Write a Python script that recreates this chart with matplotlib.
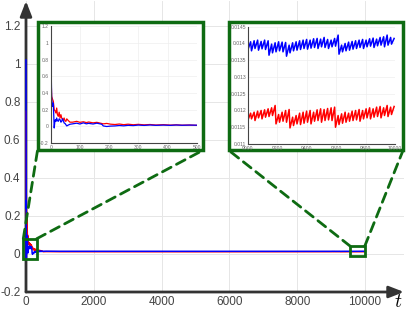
import numpy as np
import matplotlib
matplotlib.use("Agg")
import matplotlib.pyplot as plt
from matplotlib.patches import Rectangle, ConnectionPatch

plt.rcParams['font.family'] = ['Liberation Sans', 'DejaVu Sans']
plt.rcParams['mathtext.fontset'] = 'cm'

# early transient, t in [0, 500]
t_early = [0, 1, 2, 3.4, 5, 6.8, 9, 12, 14, 16, 18, 20.5, 23, 26, 29, 32, 35, 37.7, 40, 43,
           46, 49, 52, 55, 60, 66, 75, 89, 100, 112, 122, 130, 145, 158, 175, 180, 192,
           205, 220, 235, 250, 265, 283, 300, 320, 340, 360, 386, 410, 430, 450, 475, 500]
blue_early = [1.02, 0.9, 0.6, 0.32, 0.28, 0.24, 0.28, -0.02, 0.05, 0.08, 0.06, 0.10, 0.07,
              0.06, 0.09, 0.08, 0.05, 0.06, 0.09, 0.07, 0.04, 0.035, 0.02, 0.005, 0.015,
              0.025, 0.03, 0.038, 0.028, 0.042, 0.03, 0.036, 0.028, 0.038, 0.025, 0.005,
              -0.002, 0.003, 0.005, 0.01, 0.006, 0.012, 0.009, 0.015, 0.011, 0.016, 0.012,
              0.015, 0.012, 0.016, 0.013, 0.015, 0.014]
red_early = [0.75, 0.72, 0.5, 0.36, 0.34, 0.32, 0.3, 0.2, 0.19, 0.18, 0.16, 0.22, 0.14,
             0.12, 0.17, 0.10, 0.14, 0.10, 0.09, 0.08, 0.10, 0.065, 0.06, 0.09, 0.07, 0.05,
             0.05, 0.06, 0.048, 0.055, 0.045, 0.052, 0.042, 0.048, 0.035, 0.03, 0.035,
             0.026, 0.022, 0.028, 0.02, 0.026, 0.019, 0.024, 0.018, 0.022, 0.016, 0.02,
             0.015, 0.018, 0.014, 0.016, 0.012]

# middle stretch (flat)
t_mid = [600, 800, 1000, 1500, 2000, 3000, 4000, 5000, 6000, 7000, 8000, 8500]
blue_mid = [0.0145, 0.0142, 0.014, 0.0141, 0.0139, 0.014, 0.0139, 0.014, 0.0139, 0.014,
            0.0139, 0.0139]
red_mid = [0.0125, 0.0122, 0.012, 0.0119, 0.0119, 0.0118, 0.0118, 0.0117, 0.0118, 0.0117,
           0.0118, 0.0118]

# late sawtooth, t in [9000, 10000]: trough / peak of each tooth
blue_trough = [0.01382, 0.01378, 0.01385, 0.0138, 0.01384, 0.01382, 0.01365, 0.01372,
               0.01375, 0.01378, 0.01375, 0.01362, 0.01372, 0.01378, 0.0138, 0.01382,
               0.01385, 0.01383, 0.01386, 0.01388, 0.01385, 0.0139, 0.01388, 0.01385,
               0.0139, 0.01392, 0.01368, 0.01375, 0.01378, 0.0138, 0.01383, 0.01385,
               0.01388, 0.01385, 0.0139, 0.01392, 0.01388, 0.01393, 0.01395, 0.0139,
               0.01395, 0.01398]
blue_peak = [0.01405, 0.01408, 0.0141, 0.01406, 0.0141, 0.01408, 0.01398, 0.01402, 0.01405,
             0.01404, 0.01403, 0.01395, 0.01402, 0.01405, 0.01408, 0.0141, 0.01412, 0.0141,
             0.01414, 0.01415, 0.01413, 0.01418, 0.01412, 0.0141, 0.01415, 0.01425,
             0.01395, 0.014, 0.01404, 0.01406, 0.01408, 0.0141, 0.01412, 0.0141, 0.01414,
             0.01416, 0.01413, 0.01418, 0.0142, 0.01425, 0.01418, 0.01415]
red_trough = [0.01172, 0.01175, 0.0117, 0.01178, 0.01175, 0.0118, 0.01182, 0.01185, 0.0116,
              0.01165, 0.01168, 0.01165, 0.01148, 0.01155, 0.0116, 0.01158, 0.01162,
              0.01165, 0.0116, 0.01168, 0.0117, 0.01165, 0.0117, 0.01172, 0.0117, 0.0115,
              0.01158, 0.01162, 0.01165, 0.01168, 0.0117, 0.01172, 0.01168, 0.01175,
              0.01178, 0.01175, 0.0118, 0.01182, 0.01178, 0.01185, 0.01182, 0.01188]
red_peak = [0.01192, 0.01195, 0.01198, 0.012, 0.01202, 0.01205, 0.01208, 0.01215, 0.01188,
            0.01195, 0.012, 0.01203, 0.0118, 0.01185, 0.01192, 0.01195, 0.01198, 0.012,
            0.01195, 0.01202, 0.01205, 0.01203, 0.01206, 0.01208, 0.0121, 0.01185, 0.0119,
            0.01195, 0.01192, 0.01198, 0.012, 0.01203, 0.012, 0.01205, 0.01208, 0.01205,
            0.0121, 0.01212, 0.01208, 0.01215, 0.0121, 0.01212]

green = '#0e6b12'
W, H = 407, 311


def fbox(x0, y0, x1, y1):
    # pixel box (from top-left) -> figure fraction rect
    return [x0 / W, 1 - y1 / H, (x1 - x0) / W, (y1 - y0) / H]


# build full series from the pieces
n = len(blue_peak)
t_start = np.linspace(9000, 10000, n + 1)[:-1]
step = t_start[1] - t_start[0]
t_late = np.ravel(np.column_stack([t_start, t_start + 0.75 * step]))
blue_late = np.ravel(np.column_stack([blue_trough, blue_peak]))
red_late = np.ravel(np.column_stack([red_trough, red_peak]))

t_all = np.concatenate([t_early, t_mid, t_late])
blue_all = np.concatenate([blue_early, blue_mid, blue_late])
red_all = np.concatenate([red_early, red_mid, red_late])

fig = plt.figure(figsize=(4.07, 3.11), dpi=100)

# main axes
ax = fig.add_axes(fbox(26, 1, 404, 292), zorder=1)
ax.set_xlim(0, 11150)
ax.set_ylim(-0.2, 1.33)
ax.set_xticks([0, 2000, 4000, 6000, 8000, 10000])
ax.set_yticks([-0.2, 0, 0.2, 0.4, 0.6, 0.8, 1.0, 1.2])
ax.set_yticklabels(['-0.2', '0', '0.2', '0.4', '0.6', '0.8', '1', '1.2'])
ax.grid(color='#e6e6e6', lw=0.7)
ax.tick_params(length=0, labelsize=8.5, labelcolor='#444444')
ax.tick_params(axis='x', pad=3)
ax.tick_params(axis='y', pad=4)
for s in ax.spines.values():
    s.set_visible(False)
ax.annotate('', xy=(1, 0), xycoords='axes fraction', xytext=(0, 0),
            arrowprops=dict(arrowstyle='-|>,head_length=0.9,head_width=0.35', lw=2,
                            color='#333333', shrinkA=0, shrinkB=0))
ax.annotate('', xy=(0, 1), xycoords='axes fraction', xytext=(0, 0),
            arrowprops=dict(arrowstyle='-|>,head_length=0.9,head_width=0.35', lw=2,
                            color='#333333', shrinkA=0, shrinkB=0))
ax.text(0.995, -0.008, '$t$', transform=ax.transAxes, fontsize=14, ha='right', va='top')

ax.plot(t_all, red_all, color='red', lw=1.1, clip_on=False, zorder=3)
ax.plot(t_all, blue_all, color='blue', lw=1.1, clip_on=False, zorder=3)

# zoom boxes
ax.add_patch(Rectangle((-80, -0.027), 395, 0.107, fill=False, ec=green, lw=2,
                       clip_on=False, zorder=4))
ax.add_patch(Rectangle((9570, -0.01), 420, 0.05, fill=False, ec=green, lw=2,
                       clip_on=False, zorder=4))

# frames around insets
f1 = (37.5, 22.5, 202.5, 150.5)
f2 = (229, 22.5, 403, 150.5)
for f in (f1, f2):
    b = fbox(*f)
    fig.add_artist(Rectangle((b[0], b[1]), b[2], b[3], transform=fig.transFigure,
                             fc='white', ec=green, lw=2.5, zorder=5))

links = [((-80, 0.08), (f1[0], f1[3])), ((315, 0.08), (f1[2], f1[3])),
         ((9570, 0.04), (f2[0], f2[3])), ((9990, 0.04), (f2[2], f2[3]))]
for (dx, dy), (px, py) in links:
    fig.add_artist(ConnectionPatch(xyA=(dx, dy), coordsA=ax.transData,
                                   xyB=(px / W, 1 - py / H), coordsB=fig.transFigure,
                                   color=green, lw=2, ls=(0, (3.5, 2.2)), zorder=4))


def style_inset(a):
    for k in ('top', 'right'):
        a.spines[k].set_visible(False)
    for k in ('left', 'bottom'):
        a.spines[k].set_color('#444444')
        a.spines[k].set_linewidth(0.8)
    a.grid(color='#eeeeee', lw=0.5)
    a.tick_params(length=0, labelsize=3.6, labelcolor='#666666', pad=1.5)


ax1 = fig.add_axes(fbox(50.7, 26.4, 196.7, 143), zorder=6)
ax1.plot(t_all, red_all, color='red', lw=0.9)
ax1.plot(t_all, blue_all, color='blue', lw=0.9)
ax1.set_xlim(0, 500)
ax1.set_ylim(-0.2, 1.2)
ax1.set_xticks([0, 100, 200, 300, 400, 500])
ax1.set_yticks([-0.2, 0, 0.2, 0.4, 0.6, 0.8, 1.0, 1.2])
ax1.set_yticklabels(['-0.2', '0', '0.2', '0.4', '0.6', '0.8', '1', '1.2'])
style_inset(ax1)

ax2 = fig.add_axes(fbox(248, 26.7, 395, 144), zorder=6)
ax2.plot(t_all, red_all, color='red', lw=1.1)
ax2.plot(t_all, blue_all, color='blue', lw=1.1)
ax2.set_xlim(9000, 10000)
ax2.set_ylim(0.011, 0.0145)
ax2.set_xticks([9000, 9200, 9400, 9600, 9800, 10000])
ax2.set_yticks([0.011, 0.0115, 0.012, 0.0125, 0.013, 0.0135, 0.014, 0.0145])
ax2.set_yticklabels(['0.011', '0.0115', '0.012', '0.0125', '0.013', '0.0135', '0.014',
                     '0.0145'])
style_inset(ax2)

fig.savefig('out.png', dpi=100)
